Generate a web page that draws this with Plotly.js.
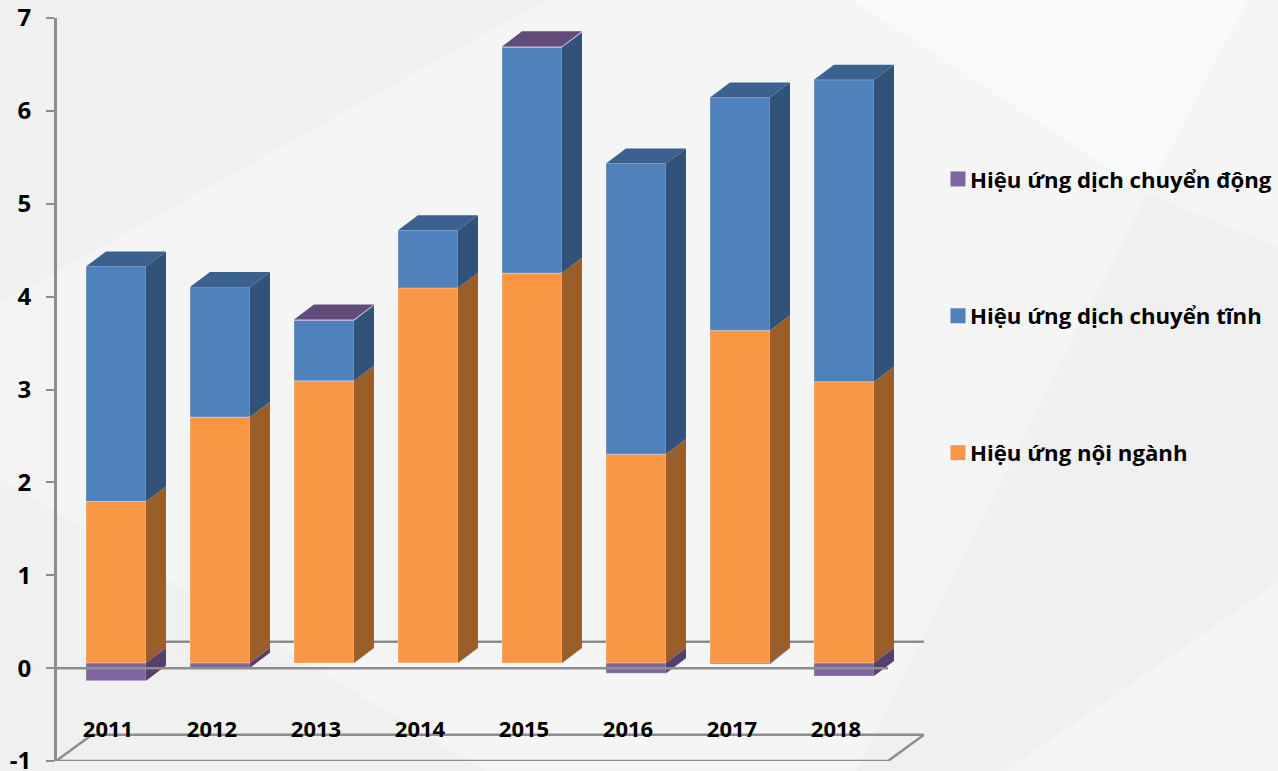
<!DOCTYPE html>
<html>
<head>
<meta charset="utf-8">
<script src="https://cdn.plot.ly/plotly-3.0.1.min.js"></script>
<style>html,body{margin:0;padding:0;background:#f5f5f5}#chart{width:1278px;height:771px}</style>
</head>
<body>
<div id="chart"></div>
<script>
// Contribution of each effect to growth, by year
const years = ['2011','2012','2013','2014','2015','2016','2017','2018'];
const withinSector = [1.74, 2.65, 3.04, 4.04, 4.20, 2.25, 3.58, 3.03];
const staticShift  = [2.53, 1.40, 0.65, 0.62, 2.43, 3.13, 2.51, 3.25];
const dynamicShift = [-0.19, -0.05, 0.01, 0, 0.01, -0.11, -0.01, -0.14];
const valueTickVals = [-1, 0, 1, 2, 3, 4, 5, 6, 7];
const valueTickText = ['-1', '0', '1', '2', '3', '4', '5', '6', '7'];

const seriesNames = ['Hiệu ứng nội ngành', 'Hiệu ứng dịch chuyển tĩnh', 'Hiệu ứng dịch chuyển động'];
const frontColors = ['#f99646', '#4f81bd', '#8064a2'];
const sideColors  = ['#9a5e2b', '#31537a', '#543f6d'];
const topColors   = ['#9a5e2b', '#3c618f', '#614b79'];

// Oblique projection of the box drawn in axis units
const barWidth = 0.577, barShift = 0.077, planeLift = 0.054;
const barDepthX = 0.192, barDepthY = 0.162;
const wallDepthX = 0.346, wallDepthY = 0.283;
const axisGray = '#8d8d8d';

const orangeBase = years.map(() => planeLift);
const blueBase = withinSector.map(v => planeLift + v);
const purpleBase = dynamicShift.map((v, i) =>
  v > 0 ? planeLift + withinSector[i] + staticShift[i] : planeLift);

// Parallelogram on the right-hand side of one stacked segment
function sidePolys(bases, values) {
  const xs = [], ys = [];
  values.forEach((v, i) => {
    if (!v) return;
    const r = i + barShift + barWidth / 2, b = bases[i], t = b + v;
    xs.push(r, r + barDepthX, r + barDepthX, r, r, null);
    ys.push(b, b + barDepthY, t + barDepthY, t, b, null);
  });
  return { xs, ys };
}
function sideTrace(bases, values, color) {
  const p = sidePolys(bases, values);
  return { type: 'scatter', mode: 'lines', x: p.xs, y: p.ys, fill: 'toself', fillcolor: color,
    line: { width: 0, color: color }, hoverinfo: 'skip', showlegend: false, cliponaxis: false };
}
// Lid of each column, coloured by whichever segment ends on top
function topTrace(seriesIndex) {
  const xs = [], ys = [];
  years.forEach((_, i) => {
    const purpleOnTop = dynamicShift[i] > 0;
    if ((seriesIndex === 2) !== purpleOnTop) return;
    const l = i + barShift - barWidth / 2, r = l + barWidth;
    const t = planeLift + withinSector[i] + staticShift[i] + Math.max(dynamicShift[i], 0);
    xs.push(l, r, r + barDepthX, l + barDepthX, l, null);
    ys.push(t, t, t + barDepthY, t + barDepthY, t, null);
  });
  return { type: 'scatter', mode: 'lines', x: xs, y: ys, fill: 'toself', fillcolor: topColors[seriesIndex],
    line: { width: 0, color: topColors[seriesIndex] }, hoverinfo: 'skip', showlegend: false, cliponaxis: false };
}
function frontTrace(bases, values, k) {
  return { type: 'bar', x: years.map((_, i) => i + barShift), y: values, base: bases, width: barWidth,
    name: seriesNames[k], marker: { color: frontColors[k], line: { color: 'rgba(255,255,255,0.28)', width: 1 } },
    showlegend: false, hovertemplate: seriesNames[k] + ': %{y}<extra></extra>' };
}
function wallLine(xs, ys) {
  return { type: 'scatter', mode: 'lines', x: xs, y: ys, line: { color: axisGray, width: 2.5 },
    hoverinfo: 'skip', showlegend: false, cliponaxis: false };
}
function legendKey(k) {
  return { type: 'scatter', mode: 'markers', x: [null], y: [null], name: seriesNames[k], legendgroup: 'g' + k,
    marker: { symbol: 'square', size: 15, color: frontColors[k] }, showlegend: true };
}

const left = -0.5, right = 7.5;
const traces = [
  wallLine([left, right, right + wallDepthX, left + wallDepthX, left], [-1, -1, -1 + wallDepthY, -1 + wallDepthY, -1]),
  sideTrace(orangeBase, withinSector, sideColors[0]),
  sideTrace(blueBase, staticShift, sideColors[1]),
  sideTrace(purpleBase, dynamicShift, sideColors[2]),
  topTrace(1),
  topTrace(2),
  frontTrace(orangeBase, withinSector, 0),
  frontTrace(blueBase, staticShift, 1),
  frontTrace(purpleBase, dynamicShift, 2),
  wallLine([left, right], [0, 0]),
  legendKey(2), legendKey(1), legendKey(0)
];

// Faint facets of the slide backdrop, given in page pixels
const plotL = 57, plotT = 18, plotW = 867, plotH = 743;
function facet(points, color) {
  const path = points.map((p, i) => (i ? 'L' : 'M') + ((p[0] - plotL) / plotW).toFixed(4) + ',' +
    ((plotT + plotH - p[1]) / plotH).toFixed(4)).join(' ') + ' Z';
  return { type: 'path', xref: 'paper', yref: 'paper', path, fillcolor: color, line: { width: 0 }, layer: 'below' };
}
const shapes = [
  facet([[0, 0], [547, 0], [0, 303]], '#f0f0f0'),
  facet([[0, 478], [486, 771], [0, 771]], '#f0f0f0'),
  facet([[852, 0], [1248, 0], [1147, 193]], '#f9f9f9'),
  facet([[1147, 193], [1278, 247], [1278, 582], [1006, 771], [856, 771]], '#f0f0f0'),
  // Zero level on the back wall sits behind the columns
  { type: 'line', xref: 'x', yref: 'y', layer: 'below', x0: left + wallDepthX, x1: right + wallDepthX,
    y0: wallDepthY, y1: wallDepthY, line: { color: axisGray, width: 2.5 } }
];

const boldFont = { family: '"Open Sans", sans-serif', weight: 700, color: '#000000' };
const layout = {
  width: 1278, height: 771,
  margin: { l: plotL, r: 1278 - plotL - plotW, t: plotT, b: 771 - plotT - plotH, pad: 0, autoexpand: false },
  paper_bgcolor: '#f5f5f5', plot_bgcolor: 'rgba(0,0,0,0)',
  barmode: 'overlay',
  xaxis: {
    range: [(plotL - 108) / 104, (plotL + plotW - 108) / 104],
    tickmode: 'array', tickvals: years.map((_, i) => i), ticktext: years,
    ticks: '', showgrid: false, zeroline: false, showline: false, fixedrange: true,
    ticklabelstandoff: -47,
    tickfont: Object.assign({ size: 22 }, boldFont)
  },
  yaxis: {
    range: [-1, 7], tickmode: 'array', tickvals: valueTickVals, ticktext: valueTickText,
    ticks: 'outside', ticklen: 8, tickwidth: 2, tickcolor: axisGray,
    showline: true, linewidth: 3, linecolor: axisGray,
    showgrid: false, zeroline: false, fixedrange: true, ticklabelstandoff: 10,
    ticklabeloverflow: 'allow',
    tickfont: Object.assign({ size: 24 }, boldFont)
  },
  legend: {
    x: (930 - plotL) / plotW, xanchor: 'left', y: (plotT + plotH - 158) / plotH, yanchor: 'top',
    traceorder: 'grouped', tracegroupgap: 105, bgcolor: 'rgba(0,0,0,0)', itemclick: false, itemdoubleclick: false,
    font: Object.assign({ size: 22.2 }, boldFont)
  },
  shapes
};

Plotly.newPlot('chart', traces, layout, { displayModeBar: false }).then(() => {
  // Tighten the gap between each legend key and its label
  document.querySelectorAll('.legend .legendpoints').forEach(g => g.setAttribute('transform', 'translate(8,0)'));
});
</script>
</body>
</html>
